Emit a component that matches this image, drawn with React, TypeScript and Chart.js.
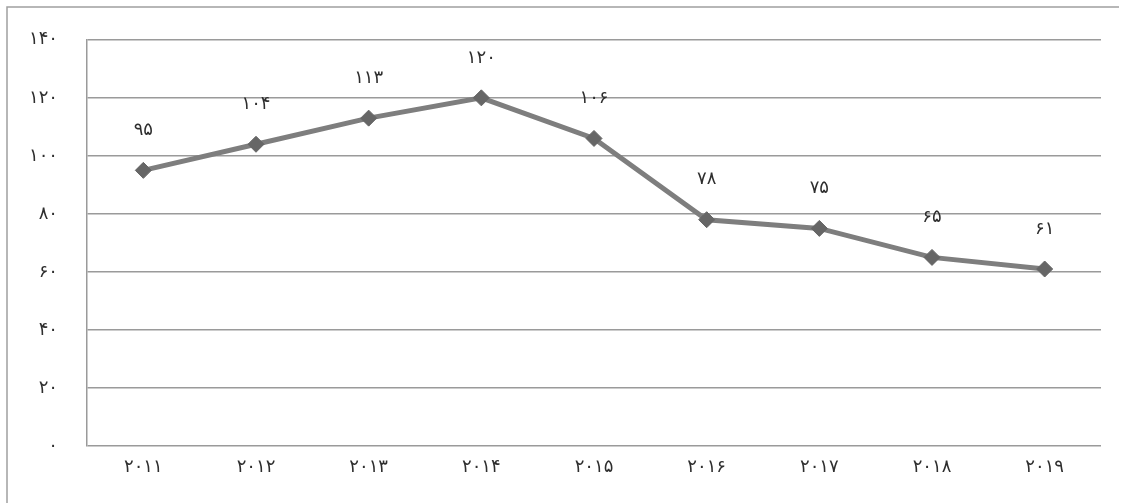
import React, { useEffect, useRef } from "react";
import { Chart, registerables } from "chart.js";

Chart.register(...registerables);

const categories = ["۲۰۱۱", "۲۰۱۲", "۲۰۱۳", "۲۰۱۴", "۲۰۱۵", "۲۰۱۶", "۲۰۱۷", "۲۰۱۸", "۲۰۱۹"];
const values = [95, 104, 113, 120, 106, 78, 75, 65, 61];
const yTicks = [0, 20, 40, 60, 80, 100, 120, 140];

const FA = "۰۱۲۳۴۵۶۷۸۹";
const toFa = (n: number | string) => String(n).replace(/[0-9]/g, (d) => FA[Number(d)]);

const FONT = "'DejaVu Sans', sans-serif";

const framePlugin = {
  id: "frame",
  beforeDraw(chart: any) {
    const ctx = chart.ctx;
    ctx.save();
    ctx.fillStyle = "#ffffff";
    ctx.fillRect(0, 0, chart.width, chart.height);
    ctx.strokeStyle = "#a0a0a0";
    ctx.lineWidth = 1.5;
    ctx.beginPath();
    ctx.moveTo(7, chart.height);
    ctx.lineTo(7, 7);
    ctx.lineTo(chart.width - 4, 7);
    ctx.stroke();
    ctx.restore();
  },
};

const labelPlugin = {
  id: "valueLabels",
  afterDatasetsDraw(chart: any) {
    const ctx = chart.ctx;
    const meta = chart.getDatasetMeta(0);
    ctx.save();
    ctx.font = `18px ${FONT}`;
    ctx.fillStyle = "#2e2e2e";
    ctx.textAlign = "center";
    ctx.textBaseline = "middle";
    meta.data.forEach((pt: any, i: number) => {
      ctx.fillText(toFa(values[i]), pt.x, pt.y - 40);
    });
    ctx.restore();
  },
};

export default function App() {
  const ref = useRef<HTMLCanvasElement>(null);
  useEffect(() => {
    if (!ref.current) return;
    const chart = new Chart(ref.current, {
      type: "line",
      data: {
        labels: categories,
        datasets: [
          {
            data: values,
            borderColor: "#7e7e7e",
            borderWidth: 5,
            pointStyle: "rectRot",
            pointRadius: 8,
            pointBackgroundColor: "#666666",
            pointBorderColor: "#666666",
            pointBorderWidth: 1,
            tension: 0,
          },
        ],
      },
      options: {
        animation: false,
        responsive: false,
        maintainAspectRatio: false,
        layout: { padding: { top: 39, right: 22, left: 0, bottom: 0 } },
        plugins: { legend: { display: false }, tooltip: { enabled: false } },
        scales: {
          x: {
            offset: true,
            grid: { display: false, drawTicks: false },
            border: { display: false },
            ticks: { color: "#2e2e2e", font: { family: FONT, size: 18 }, padding: 11, maxRotation: 0 },
            afterFit: (s: any) => {
              s.height = 57;
            },
          },
          y: {
            min: 0,
            max: 140,
            afterBuildTicks: (s: any) => {
              s.ticks = yTicks.map((v) => ({ value: v }));
            },
            grid: { color: "#9a9a9a", lineWidth: 1.5, drawTicks: false },
            border: { display: true, color: "#9a9a9a", width: 1.5 },
            ticks: {
              color: "#2e2e2e",
              font: { family: FONT, size: 18 },
              padding: 29,
              callback: (v: any) => toFa(v),
            },
            afterFit: (s: any) => {
              s.width = 87;
            },
          },
        },
      },
      plugins: [framePlugin, labelPlugin],
    });
    return () => chart.destroy();
  }, []);
  return (
    <div style={{ position: "absolute", left: 0, top: 0, width: 1123, height: 503, background: "#fff" }}>
      <canvas ref={ref} width={1123} height={503} style={{ width: 1123, height: 503, display: "block" }} />
    </div>
  );
}
